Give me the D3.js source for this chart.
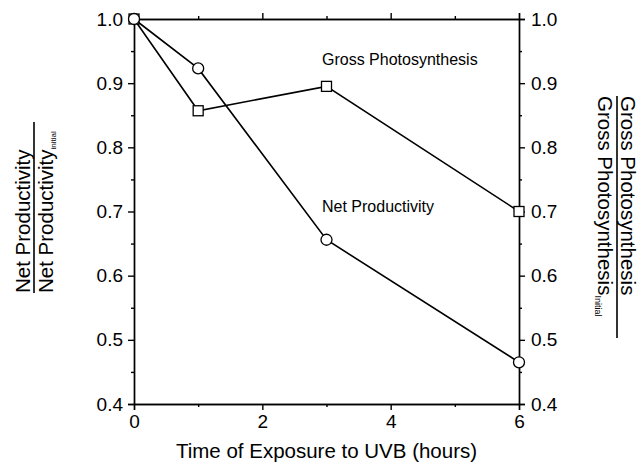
<!DOCTYPE html>
<html>
<head>
<meta charset="utf-8">
<script src="https://cdn.jsdelivr.net/npm/d3@7"></script>
<style>
  body { margin: 0; background: #fff; }
  text { font-family: "Liberation Sans", Arial, sans-serif; fill: #000; }
</style>
</head>
<body>
<div id="chart"></div>
<script>
// Data
const hours = [0, 1, 3, 6];
const netProductivity = [1.0, 0.923, 0.656, 0.465];
const grossPhotosynthesis = [1.0, 0.857, 0.895, 0.70];
const yTicks = [0.4, 0.5, 0.6, 0.7, 0.8, 0.9, 1.0];
const yMinor = [0.45, 0.55, 0.65, 0.75, 0.85, 0.95];
const xTicks = [0, 2, 4, 6];
const xMinor = [1, 3, 5];

const svgWidth = 641;
const svgHeight = 470;
const margin = { top: 19, right: 122, bottom: 66, left: 134 };
const width = svgWidth - margin.left - margin.right;
const height = svgHeight - margin.top - margin.bottom;

const svg = d3.select("#chart")
  .append("svg")
  .attr("width", svgWidth)
  .attr("height", svgHeight);

const g = svg.append("g")
  .attr("transform", `translate(${margin.left}, ${margin.top})`);

const x = d3.scaleLinear().domain([0, 6]).range([0, width]);
const y = d3.scaleLinear().domain([0.4, 1.0]).range([height, 0]);

// axes: major ticks with labels, minor ticks without
function styleAxis(sel) {
  sel.selectAll("path, line").attr("stroke", "#000").attr("stroke-width", 1.4);
  sel.selectAll("text").style("font-size", "19px").attr("font-family", "Liberation Sans, Arial, sans-serif");
}

// left
g.append("g").call(d3.axisLeft(y).tickValues(yTicks).tickFormat(d3.format(".1f")).tickSize(6).tickPadding(5)).call(styleAxis);
g.append("g").call(d3.axisLeft(y).tickValues(yMinor).tickFormat("").tickSize(3).tickSizeOuter(0)).call(styleAxis);
// right
g.append("g").attr("transform", `translate(${width},0)`)
  .call(d3.axisRight(y).tickValues(yTicks).tickFormat(d3.format(".1f")).tickSize(6).tickPadding(6)).call(styleAxis);
g.append("g").attr("transform", `translate(${width},0)`)
  .call(d3.axisRight(y).tickValues(yMinor).tickFormat("").tickSize(3).tickSizeOuter(0)).call(styleAxis);
// bottom
g.append("g").attr("transform", `translate(0,${height})`)
  .call(d3.axisBottom(x).tickValues(xTicks).tickFormat(d3.format("d")).tickSize(6).tickPadding(5)).call(styleAxis);
g.append("g").attr("transform", `translate(0,${height})`)
  .call(d3.axisBottom(x).tickValues(xMinor).tickFormat("").tickSize(3).tickSizeOuter(0)).call(styleAxis);
// top
g.append("g").call(d3.axisTop(x).tickValues(xTicks).tickFormat("").tickSize(6)).call(styleAxis);
g.append("g").call(d3.axisTop(x).tickValues(xMinor).tickFormat("").tickSize(3).tickSizeOuter(0)).call(styleAxis);

// lines
const line = d3.line().x((d, i) => x(hours[i])).y(d => y(d));

g.append("path")
  .datum(grossPhotosynthesis)
  .attr("fill", "none").attr("stroke", "#000").attr("stroke-width", 1.6)
  .attr("d", line);
g.append("path")
  .datum(netProductivity)
  .attr("fill", "none").attr("stroke", "#000").attr("stroke-width", 1.6)
  .attr("d", line);

// markers
g.selectAll("rect.gross")
  .data(grossPhotosynthesis)
  .enter().append("rect")
  .attr("class", "gross")
  .attr("x", (d, i) => x(hours[i]) - 5)
  .attr("y", d => y(d) - 5)
  .attr("width", 10).attr("height", 10)
  .attr("fill", "#fff").attr("stroke", "#000").attr("stroke-width", 1.3);

g.selectAll("circle.net")
  .data(netProductivity)
  .enter().append("circle")
  .attr("class", "net")
  .attr("cx", (d, i) => x(hours[i]))
  .attr("cy", d => y(d))
  .attr("r", 5.5)
  .attr("fill", "#fff").attr("stroke", "#000").attr("stroke-width", 1.3);

// series labels
g.append("text").attr("x", x(2.93)).attr("y", 46)
  .style("font-size", "16px").text("Gross Photosynthesis");
g.append("text").attr("x", x(2.93)).attr("y", 193)
  .style("font-size", "16px").text("Net Productivity");

// x axis title
svg.append("text")
  .attr("x", margin.left + width / 2).attr("y", 458)
  .attr("text-anchor", "middle")
  .style("font-size", "20.5px")
  .text("Time of Exposure to UVB (hours)");

// left y title (fraction)
const leftT = svg.append("g").attr("transform", "translate(0, 293) rotate(-90)");
leftT.append("text").attr("x", 0).attr("y", 30).style("font-size", "20.5px").text("Net Productivity");
leftT.append("line").attr("x1", 0).attr("x2", 171).attr("y1", 34).attr("y2", 34)
  .attr("stroke", "#000").attr("stroke-width", 1.6);
const leftD = leftT.append("text").attr("x", 0).attr("y", 53).style("font-size", "20.5px");
leftD.append("tspan").text("Net Productivity");
leftD.append("tspan").attr("dy", 3).style("font-size", "8px").text("initial");

// right y title (fraction)
const rightT = svg.append("g").attr("transform", "translate(641, 96) rotate(90)");
rightT.append("text").attr("x", 0).attr("y", 20).style("font-size", "20.5px").text("Gross Photosynthesis");
rightT.append("line").attr("x1", 0).attr("x2", 242).attr("y1", 24).attr("y2", 24)
  .attr("stroke", "#000").attr("stroke-width", 1.6);
const rightD = rightT.append("text").attr("x", 0).attr("y", 43).style("font-size", "20.5px");
rightD.append("tspan").text("Gross Photosynthesis");
rightD.append("tspan").attr("dy", 3).style("font-size", "9px").text("Initial");
</script>
</body>
</html>
